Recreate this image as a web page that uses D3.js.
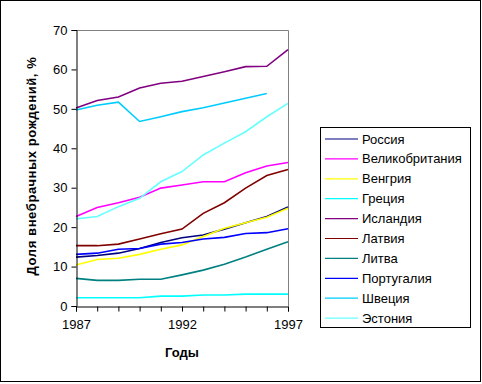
<!DOCTYPE html>
<html>
<head>
<meta charset="utf-8">
<script src="https://cdn.jsdelivr.net/npm/d3@7"></script>
<style>
  body { margin: 0; background: #fff; }
  svg { display: block; font-family: Arial, "Liberation Sans", sans-serif; }
</style>
</head>
<body>
<div id="chart"></div>
<script>
const years = [1987, 1988, 1989, 1990, 1991, 1992, 1993, 1994, 1995, 1996, 1997];
const countries = ["Россия", "Великобритания", "Венгрия", "Греция", "Исландия", "Латвия", "Литва", "Португалия", "Швеция", "Эстония"];
const colors = ["#000080", "#ff00ff", "#ffff00", "#00ffff", "#800080", "#800000", "#008080", "#0000ff", "#00ccff", "#66ffff"];

const russia   = [12.4, 12.8, 13.4, 14.6, 16.1, 17.3, 18.0, 19.5, 21.1, 22.7, 25.1];
const uk       = [22.7, 25.0, 26.2, 27.6, 29.9, 30.7, 31.5, 31.5, 33.8, 35.5, 36.4];
const hungary  = [10.4, 11.8, 12.1, 13.1, 14.4, 15.5, 17.6, 19.7, 21.1, 22.5, 24.8];
const greece   = [2.1, 2.1, 2.1, 2.1, 2.5, 2.5, 2.8, 2.8, 3.0, 3.0, 3.0];
const iceland  = [50.2, 52.1, 53.0, 55.3, 56.5, 57.0, 58.2, 59.4, 60.7, 60.8, 65.0];
const latvia   = [15.3, 15.3, 15.7, 17.0, 18.3, 19.5, 23.5, 26.2, 29.9, 33.1, 34.6];
const lithuania= [7.0, 6.5, 6.5, 6.8, 6.8, 7.9, 9.1, 10.6, 12.4, 14.4, 16.3];
const portugal = [13.1, 13.4, 14.4, 14.6, 15.7, 16.1, 17.0, 17.4, 18.4, 18.6, 19.6];
const sweden   = [49.7, 50.9, 51.7, 46.8, 48.0, 49.3, 50.3, 51.5, 52.7, 53.9, null];
const estonia  = [22.1, 22.7, 25.2, 27.3, 31.5, 34.1, 38.3, 41.3, 44.2, 48.0, 51.4];

const seriesValues = [russia, uk, hungary, greece, iceland, latvia, lithuania, portugal, sweden, estonia];
const yTicks = [0, 10, 20, 30, 40, 50, 60, 70];
const xLabels = [1987, 1992, 1997];

const W = 482, H = 384;
const plot = {left: 76, right: 288, top: 30, bottom: 306};

const svg = d3.select("#chart").append("svg")
  .attr("width", W)
  .attr("height", H);

// outer frame
svg.append("rect")
  .attr("x", 0.5).attr("y", 0.5)
  .attr("width", 480).attr("height", 381)
  .attr("fill", "none").attr("stroke", "#000");

const x = d3.scaleLinear().domain([1987, 1997]).range([plot.left, plot.right]);
const y = d3.scaleLinear().domain([0, 70]).range([plot.bottom, plot.top]);

// plot area border (gray top/right)
svg.append("path")
  .attr("d", `M${plot.left},${plot.top + 0.5}H${plot.right + 0.5}V${plot.bottom}`)
  .attr("fill", "none").attr("stroke", "#808080");

// series lines
const line = d3.line()
  .defined(d => d != null)
  .x((d, i) => x(years[i]))
  .y(d => y(d));

svg.append("g").selectAll("path")
  .data(seriesValues)
  .join("path")
    .attr("d", d => line(d))
    .attr("fill", "none")
    .attr("stroke", (d, i) => colors[i])
    .attr("stroke-width", 1.6);

// y axis
const yAxis = svg.append("g")
  .attr("transform", `translate(${plot.left + 0.5},0)`)
  .call(d3.axisLeft(y).tickValues(yTicks).tickSize(5).tickPadding(4));
yAxis.selectAll("text").attr("font-size", 13).attr("font-family", "Arial").attr("fill", "#000");

// x axis
const xAxis = svg.append("g")
  .attr("transform", `translate(0,${plot.bottom + 0.5})`)
  .call(d3.axisBottom(x).tickValues(years).tickSize(5).tickPadding(8)
    .tickFormat(d => xLabels.includes(d) ? d : ""));
xAxis.selectAll("text").attr("font-size", 13).attr("font-family", "Arial").attr("fill", "#000");

[yAxis, xAxis].forEach(g => {
  g.select(".domain").attr("stroke", "#000");
  g.selectAll(".tick line").attr("stroke", "#000");
});

// axis titles
svg.append("text")
  .attr("transform", "translate(36,166) rotate(-90)")
  .attr("text-anchor", "middle")
  .attr("font-size", 13)
  .attr("font-weight", "bold")
  .attr("letter-spacing", 0.6)
  .text("Доля внебрачных рождений, %");

svg.append("text")
  .attr("x", (plot.left + plot.right) / 2)
  .attr("y", 357)
  .attr("text-anchor", "middle")
  .attr("font-size", 13)
  .attr("font-weight", "bold")
  .text("Годы");

// legend
const legend = svg.append("g");
legend.append("rect")
  .attr("x", 320.5).attr("y", 127.5)
  .attr("width", 150).attr("height", 200)
  .attr("fill", "#fff").attr("stroke", "#000");

const item = legend.selectAll("g.item")
  .data(countries)
  .join("g")
    .attr("class", "item")
    .attr("transform", (d, i) => `translate(0,${139 + i * 19.9})`);

item.append("line")
  .attr("x1", 325).attr("x2", 358)
  .attr("stroke", (d, i) => colors[i])
  .attr("stroke-width", 1.2);

item.append("text")
  .attr("x", 362)
  .attr("dy", "0.35em")
  .attr("font-size", 13)
  .text(d => d);
</script>
</body>
</html>
